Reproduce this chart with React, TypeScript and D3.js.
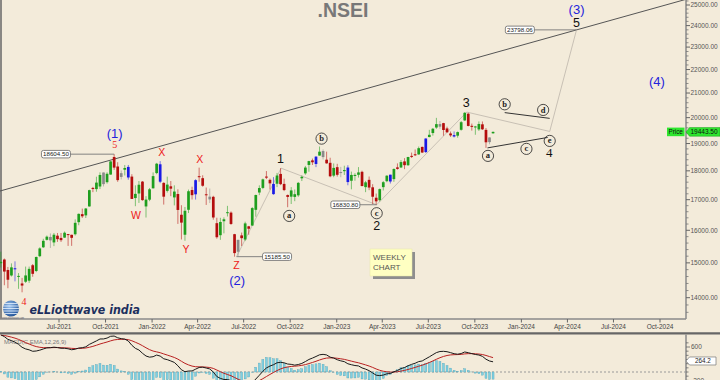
import React from 'react';
import * as d3 from 'd3';

// ---------- DATA (weekly NIFTY candles) ----------
const FIRST_WEEK = '2021-03-08';

const opens = [
  14990, 15100, 14790, 14630, 14840, 14590, 14400, 14450, 14480, 14930, 14760, 15200, 15470, 15700, 15790, 15620,
  15830, 15760, 15770, 15880, 15857, 15875, 16260, 16520, 16480, 16775, 17400, 17360, 17450, 17940, 17600, 17867,
  18500, 18155, 17783, 18040, 18140, 17796, 17055, 17210, 17620, 16774, 17000,
  17388, 17920, 18235, 17575, 17300, 17456, 17077, 17192, 16500, 15860, 16663, 17329, 17182, 17810, 17740, 17183,
  17009, 17097, 16227, 15845, 16290, 16578, 16570, 15877, 15334, 15839, 15710, 16126, 16151, 16662, 17243, 17401,
  17797, 17682, 17188, 17546, 17890, 17540, 17156, 17102, 17094, 17147, 17736, 17910, 18211, 18377, 18246, 18552,
  18719, 18402, 18288, 17830,
  18131, 17953, 17988, 18118, 17650, 17818, 17859, 17965, 17428, 17681, 17422, 17066, 16984, 17428, 17634, 17863,
  17708, 18124, 18120, 18339, 18201, 18541, 18600, 18595, 18873, 18682, 19246, 19400, 19612, 19748, 19784, 19577,
  19383, 19320, 19298, 19525, 19890, 20156, 19679, 19622, 19539, 19737, 19521, 19053, 19390,
];
const highs = [
  15336, 15130, 14880, 14985, 15045, 14700, 14560, 14890, 14890, 14966, 15190, 15470, 15733, 15835, 15901, 15915,
  15915, 15915, 15962, 15882, 15862, 16350, 16543, 16702, 16722, 17340, 17436, 17792, 17947, 17943, 17948, 18350,
  18604.5, 18310, 18012, 18210, 18210, 17880, 17490, 17640, 17640, 17118, 17400,
  17945, 18286, 18350, 17599, 17794, 17640, 17490, 17352, 16815, 16757, 17344, 17442, 17703, 18114, 17842, 17414,
  17379, 17132, 16404, 16400, 16415, 16793, 16610, 15887, 15707, 15928, 16275, 16140, 16752, 17172, 17490, 17724,
  17992, 17726, 17777, 17925, 18096, 17723, 17176, 17428, 17348, 17607, 17838, 18176, 18362, 18443, 18534, 18888,
  18781, 18697, 18473, 18265,
  18251, 18141, 18183, 18201, 17972, 17916, 18134, 18004, 17645, 17799, 17530, 17207, 17381, 17638, 17842, 17863,
  18089, 18267, 18389, 18458, 18508, 18662, 18777, 18888, 18886, 19201, 19523, 19595, 19991, 19867, 19795, 19645,
  19458, 19462, 19458, 19867, 20222, 20195, 19766, 19676, 19850, 19849, 19593, 19233, 19460,
];
const lows = [
  14862, 14350, 14265, 14600, 14460, 14248, 14151, 14416, 14417, 14592, 14725, 15170, 15450, 15680, 15450, 15505,
  15636, 15635, 15760, 15513, 15514, 15835, 16160, 16395, 16395, 16764, 17255, 17270, 17363, 17452, 17550, 17865,
  18033, 17613, 17697, 17836, 17688, 17026, 16782, 16891, 16966, 16410, 16950,
  17380, 17880, 17566, 16836, 17244, 17119, 16809, 16203, 15711, 15671, 16556, 17006, 17004, 17617, 17442, 16824,
  16888, 16340, 15736, 15700, 15903, 16444, 16172, 15185.5, 15191, 15511, 15661, 15858, 16143, 16438, 17154, 17359,
  17710, 17345, 17166, 17429, 17497, 17291, 16748, 16855, 16950, 17098, 17640, 17860, 17969, 18209, 18133, 18552,
  18410, 18255, 17774, 17774,
  17796, 17774, 17853, 17493, 17353, 17652, 17761, 17456, 17255, 17324, 16850, 16830.8, 16940, 17313, 17598, 17553,
  17613, 18042, 18100, 18060, 18178, 18465, 18535, 18580, 18646, 18647, 19234, 19300, 19562, 19563, 19296, 19412,
  19253, 19229, 19223, 19491, 19866, 19657, 19492, 19333, 19480, 19518, 18837, 18973, 19370,
];
const closes = [
  15031, 14744, 14507, 14867, 14835, 14618, 14341, 14631, 14823, 14678, 15175, 15436, 15670, 15799, 15683, 15860,
  15722, 15690, 15923, 15856, 15763, 16238, 16529, 16450, 16705, 17324, 17369, 17585, 17853, 17532, 17895, 18339,
  18115, 17672, 17917, 18102, 17765, 17026, 17197, 17511, 16985, 17003, 17354,
  17812, 18256, 17617, 17102, 17516, 17375, 17276, 16658, 16245, 16630, 17287, 17153, 17670, 17784, 17476, 17172,
  17102, 16411, 15782, 16266, 16352, 16584, 16202, 15293, 15699, 15752, 16220, 16049, 16719, 17158, 17397, 17698,
  17758, 17559, 17539, 17833, 17531, 17327, 17094, 17315, 17186, 17576, 17787, 18117, 18350, 18308, 18512, 18696,
  18497, 18269, 17807, 18105,
  17859, 17956, 18027, 17604, 17854, 17856, 17944, 17466, 17594, 17413, 17100, 16945, 17360, 17599, 17828, 17624,
  18065, 18069, 18315, 18203, 18499, 18534, 18563, 18826, 18665, 19189, 19332, 19565, 19745, 19646, 19517, 19428,
  19310, 19266, 19435, 19820, 20192, 19674, 19638, 19654, 19751, 19543, 19047, 19230, 19443.5,
];

// weeks drawn in the chart's blue and grey candle colours
const blueWeeks = ['2021-04-05', '2021-11-15', '2022-01-17', '2022-03-28', '2022-08-29', '2022-11-21',
  '2023-01-23', '2023-04-17', '2023-06-26', '2023-08-21'];
const greyWeeks = ['2021-06-14', '2021-09-27', '2021-11-01', '2022-04-25', '2022-06-20', '2022-12-05',
  '2023-01-09', '2023-07-24', '2023-10-30'];

// MACD(12,26,9) starting state read from the left edge of the lower panel
const MACD_SEED_EMA12 = 14390;
const MACD_SEED_EMA26 = 13480;
const MACD_SEED_SIGNAL = 880;

const priceTicks = [14000, 15000, 16000, 17000, 18000, 19000, 20000, 21000, 22000, 23000, 24000, 25000];
const macdTicks = [600, -200];
const lastPrice = 19443.5;
const lastMacd = 264.2;

// Elliott wave labels: [text, date, price, style]
const waveLabels: [string, string, number, string][] = [
  ['(1)', '2021-10-19', 19404, 'degree'],
  ['5', '2021-10-19', 18950, 'redNum'],
  ['X', '2022-01-20', 18689, 'red'],
  ['X', '2022-04-05', 18431, 'red'],
  ['W', '2021-11-30', 16494, 'red'],
  ['Y', '2022-03-09', 15417, 'red'],
  ['Z', '2022-06-17', 14936, 'red'],
  ['(2)', '2022-06-18', 14500, 'degree'],
  ['1', '2022-09-12', 18431, 'wave'],
  ['2', '2023-03-21', 16138, 'wave'],
  ['3', '2023-09-14', 20601, 'wave'],
  ['4', '2024-02-25', 18663, 'waveSerif'],
  ['5', '2024-04-19', 24157, 'wave'],
  ['(3)', '2024-04-19', 24803, 'degree'],
  ['(4)', '2024-09-25', 21477, 'degree'],
  ['4', '2021-04-23', 13908, 'redNum'],
];
const circledLabels: [string, string, number][] = [
  ['a', '2022-09-29', 16462],
  ['b', '2022-12-02', 19186],
  ['c', '2023-03-21', 16550],
  ['a', '2023-10-27', 18541],
  ['b', '2023-11-29', 20536],
  ['c', '2024-01-11', 18800],
  ['d', '2024-02-13', 20307],
  ['e', '2024-02-26', 19099],
];
// value flags: [text, point date, point price, flag date]
const valueFlags: [string, string, number, string][] = [
  ['18604.50', '2021-10-18', 18604.5, '2021-06-25'],
  ['15185.50', '2022-06-17', 15185.5, '2022-09-05'],
  ['16830.80', '2023-03-21', 16830.8, '2023-01-18'],
  ['23798.06', '2024-04-19', 23798.06, '2023-12-29'],
];
// wave path Z-1-2-3-4-5
const wavePathDates = ['2022-06-17', '2022-09-13', '2023-03-21', '2023-09-15', '2024-02-26', '2024-04-19'];
const wavePathPrices = [15185.5, 18096, 16830.8, 20222, 19460, 23798.06];
// triangle boundaries
const lineACE: [string, number][] = [['2023-10-26', 18837], ['2024-02-22', 19231]];
const lineBD: [string, number][] = [['2023-11-29', 20200], ['2024-02-26', 19972]];
// long-term trendline
const trendLine: [string, number][] = [['2021-03-01', 17268], ['2024-12-31', 25566]];

// ---------- LAYOUT ----------
const W = 720;
const H = 380;
const PR = 686; // plot right edge
const PB = 319; // plot bottom
const SANS = "'Liberation Sans', Arial, sans-serif";
const SERIF = "'Liberation Serif', 'Times New Roman', serif";
const BG = '#f3ebda';

const parse = d3.timeParse('%Y-%m-%d');
const D = (s: string) => parse(s) as Date;

export default function App() {
  const x = d3.scaleTime().domain([D('2021-07-01'), D('2024-10-01')]).range([59, 660]);
  const y = d3.scaleLog().domain([25000, 14000]).range([5, 297.7]);
  const ym = d3.scaleLinear().domain([0, 600]).range([372, 347]);

  const start = D(FIRST_WEEK);
  const weeks = closes.map((_, i) => d3.timeDay.offset(start, 7 * i));
  const fmtKey = d3.timeFormat('%Y-%m-%d');
  const blueSet = new Set(blueWeeks);
  const greySet = new Set(greyWeeks);

  // MACD
  const k12 = 2 / 13, k26 = 2 / 27, k9 = 2 / 10;
  let e12 = MACD_SEED_EMA12, e26 = MACD_SEED_EMA26, sig = MACD_SEED_SIGNAL;
  const macd = closes.map((c) => {
    e12 += k12 * (c - e12);
    e26 += k26 * (c - e26);
    const m = e12 - e26;
    sig += k9 * (m - sig);
    return { m, s: sig, h: m - sig };
  });
  const HIST_GAIN = 1.7;

  const bw = 2.7;
  const candles = closes.map((c, i) => {
    const o = opens[i], h = highs[i], l = lows[i];
    const key = fmtKey(weeks[i]);
    let col = c >= o ? '#1e9e1e' : '#b40d0d';
    if (blueSet.has(key)) col = '#1a1ae6';
    else if (greySet.has(key)) col = '#8a8a8a';
    const cx = x(weeks[i]);
    const top = y(Math.max(o, c));
    const bot = y(Math.min(o, c));
    return (
      <g key={i}>
        <line x1={cx} x2={cx} y1={y(h)} y2={y(l)} stroke={col} strokeOpacity={0.55} strokeWidth={1} />
        <rect x={cx - bw / 2} y={top} width={bw} height={Math.max(1, bot - top)} fill={col} />
      </g>
    );
  });

  const qTicks = d3.timeMonth.every(3)!.range(D('2021-07-01'), D('2024-10-02'));
  const fmtQ = d3.timeFormat('%b-%Y');

  const minorPrice: number[] = [];
  for (let v = 13400; v <= 25200; v += 200) if (v % 1000 !== 0) minorPrice.push(v);

  const macdPath = d3.line<{ m: number }>().x((_, i) => x(weeks[i])).y((d) => ym(d.m))(macd);
  const sigPath = d3.line<{ s: number }>().x((_, i) => x(weeks[i])).y((d) => ym(d.s))(macd);

  const wavePts = wavePathDates.map((d, i) => [x(D(d)), y(wavePathPrices[i])] as [number, number]);

  const labelStyle = (kind: string) => {
    switch (kind) {
      case 'degree': return { fill: '#2323dc', fontSize: 13, fontFamily: SANS };
      case 'red': return { fill: '#ee2020', fontSize: 10.5, fontFamily: SANS };
      case 'redNum': return { fill: '#ee2020', fontSize: 10, fontFamily: SERIF };
      case 'waveSerif': return { fill: '#111', fontSize: 13, fontFamily: SERIF };
      default: return { fill: '#111', fontSize: 12.5, fontFamily: SANS };
    }
  };

  return (
    <svg width={W} height={H} viewBox={`0 0 ${W} ${H}`}
      style={{ position: 'fixed', left: 0, top: 0, display: 'block' }}>
      <defs>
        <clipPath id="plotClip"><rect x={0} y={0} width={PR} height={PB} /></clipPath>
        <clipPath id="macdClip"><rect x={0} y={334.5} width={PR} height={46} /></clipPath>
        <radialGradient id="globe" cx="40%" cy="35%" r="70%">
          <stop offset="0%" stopColor="#9cc4ef" />
          <stop offset="100%" stopColor="#1d4f96" />
        </radialGradient>
      </defs>
      <rect x={0} y={0} width={W} height={H} fill={BG} />

      {/* title */}
      <text x={343} y={16.5} textAnchor="middle" fontFamily={SANS} fontWeight="bold" fontSize={19.5} fill="#787878">.NSEI</text>

      {/* frame */}
      <line x1={1} x2={1} y1={0} y2={PB} stroke="#666" strokeWidth={1.5} />
      <line x1={0} x2={PR} y1={PB} y2={PB} stroke="#8a8a8a" strokeWidth={1.5} />
      <line x1={PR} x2={PR} y1={0} y2={PB} stroke="#8a8a8a" strokeWidth={1.5} />

      {/* price axis */}
      {minorPrice.filter((v) => y(v) >= 0 && y(v) <= PB).map((v) => (
        <line key={'mp' + v} x1={PR} x2={PR + 2.5} y1={y(v)} y2={y(v)} stroke="#777" strokeWidth={0.8} />
      ))}
      {priceTicks.map((v) => (
        <g key={'pt' + v}>
          <line x1={PR} x2={PR + 4} y1={y(v)} y2={y(v)} stroke="#666" strokeWidth={1} />
          <text x={PR + 4.5} y={y(v)} dy="0.35em" fontFamily={SANS} fontSize={6.5} fill="#555">{v.toFixed(2)}</text>
        </g>
      ))}

      {/* date axis */}
      {qTicks.map((d) => (
        <g key={'qt' + d.getTime()}>
          <line x1={x(d)} x2={x(d)} y1={PB} y2={PB + 3.5} stroke="#666" strokeWidth={1} />
          <text x={x(d)} y={PB + 10} textAnchor="middle" fontFamily={SANS} fontSize={6.5} fill="#444">{fmtQ(d)}</text>
        </g>
      ))}

      <g clipPath="url(#plotClip)">
        {/* trend line */}
        <line x1={x(D(trendLine[0][0]))} y1={y(trendLine[0][1])} x2={x(D(trendLine[1][0]))} y2={y(trendLine[1][1])}
          stroke="#555" strokeWidth={1} />
        {/* wave path */}
        <path d={d3.line()(wavePts) || ''} fill="none" stroke="#c3bbb0" strokeWidth={0.9} />
        {/* triangle lines */}
        {[lineACE, lineBD].map((ln, i) => (
          <line key={'tl' + i} x1={x(D(ln[0][0]))} y1={y(ln[0][1])} x2={x(D(ln[1][0]))} y2={y(ln[1][1])}
            stroke="#333" strokeWidth={1} />
        ))}
        {candles}
      </g>

      {/* value flags */}
      {valueFlags.map(([t, pd, pp, bd], i) => {
        const px = x(D(pd)), py = y(pp), bx = x(D(bd));
        const w = 29, h = 7.5;
        const edge = bx < px ? bx + w / 2 : bx - w / 2;
        return (
          <g key={'vf' + i}>
            <line x1={edge} x2={px} y1={py} y2={py} stroke="#777" strokeWidth={0.9} />
            <rect x={bx - w / 2} y={py - h / 2} width={w} height={h} rx={2} fill="#fff" stroke="#666" strokeWidth={0.8} />
            <text x={bx} y={py} dy="0.35em" textAnchor="middle" fontFamily={SANS} fontSize={6.2} fill="#222">{t}</text>
          </g>
        );
      })}

      {/* wave labels */}
      {waveLabels.map(([t, d, p, k], i) => (
        <text key={'wl' + i} x={x(D(d))} y={y(p)} dy="0.36em" textAnchor="middle" {...labelStyle(k)}>{t}</text>
      ))}
      {circledLabels.map(([t, d, p], i) => (
        <g key={'cl' + i}>
          <circle cx={x(D(d))} cy={y(p)} r={5.6} fill="none" stroke="#222" strokeWidth={0.8} />
          <text x={x(D(d))} y={y(p)} dy="0.3em" textAnchor="middle" fontFamily={SERIF} fontWeight="bold" fontSize={8.5} fill="#222">{t}</text>
        </g>
      ))}

      {/* WEEKLY CHART note */}
      <rect x={373} y={252} width={42} height={27} fill="#8e8e8e" />
      <rect x={370} y={249} width={42} height={27} fill="#ffffc2" stroke="#e6e6a8" strokeWidth={0.5} />
      <text x={373} y={260} fontFamily={SANS} fontSize={8} fill="#555">WEEKLY</text>
      <text x={373} y={270} fontFamily={SANS} fontSize={8} fill="#555">CHART</text>

      {/* price flag */}
      <rect x={667} y={y(lastPrice) - 4.3} width={17.5} height={8.6} fill="#2ee62e" />
      <text x={675.7} y={y(lastPrice)} dy="0.35em" textAnchor="middle" fontFamily={SANS} fontSize={6.3} fill="#111">Price</text>
      <path d={`M${PR},${y(lastPrice)} L${PR + 3.5},${y(lastPrice) - 4.3} H${W} V${y(lastPrice) + 4.3} H${PR + 3.5} Z`}
        fill="#2ee62e" stroke="#1a9a1a" strokeWidth={0.5} />
      <text x={704} y={y(lastPrice)} dy="0.35em" textAnchor="middle" fontFamily={SANS} fontSize={6.5} fill="#111">{lastPrice.toFixed(2)}</text>

      {/* logo */}
      <circle cx={11} cy={308.5} r={8} fill="url(#globe)" />
      {[-5, -2.5, 0, 2.5, 5].map((o, i) => (
        <line key={'gl' + i} x1={11 - Math.sqrt(64 - o * o)} x2={11 + Math.sqrt(64 - o * o)} y1={308.5 + o} y2={308.5 + o}
          stroke="#e8f2ff" strokeWidth={0.8} />
      ))}
      <text x={2} y={318.6} fontFamily={SANS} fontSize={4} fill="#5a6070" textLength={22} lengthAdjust="spacingAndGlyphs">www.elliottwave.com</text>
      <text x={29.5} y={314} fontFamily="'DejaVu Sans', Verdana, sans-serif" fontStyle="italic" fontWeight="bold" fontSize={11.5}
        fill="#1c2f5e" textLength={110.5} lengthAdjust="spacingAndGlyphs">eLLiottwave india</text>

      {/* separator */}
      <line x1={0} x2={W} y1={333.3} y2={333.3} stroke="#666" strokeWidth={2.2} />

      {/* MACD panel */}
      <line x1={PR} x2={PR} y1={334.5} y2={H} stroke="#8a8a8a" strokeWidth={1.5} />
      <text x={4} y={343.5} fontFamily={SANS} fontSize={6} fill="#7a7a7a">MACD(C,EMA,12,26,9)</text>
      <line x1={0} x2={PR} y1={ym(0)} y2={ym(0)} stroke="#999" strokeWidth={1} strokeDasharray="2,2" />
      <g clipPath="url(#macdClip)">
        {macd.map((d, i) => {
          const cx = x(weeks[i]);
          const v = ym(d.h * HIST_GAIN);
          return (
            <rect key={'h' + i} x={cx - 1} y={Math.min(v, ym(0))} width={2} height={Math.abs(v - ym(0))}
              fill="#7fcfe0" stroke="#3f98b0" strokeWidth={0.3} />
          );
        })}
        <path d={sigPath || ''} fill="none" stroke="#b82020" strokeWidth={1} />
        <path d={macdPath || ''} fill="none" stroke="#1a1a1a" strokeWidth={1} />
      </g>
      {d3.range(-300, 701, 100).map((v) => (
        <line key={'mm' + v} x1={PR} x2={PR + (v % 400 === 200 || v === 600 ? 4 : 2.5)} y1={ym(v)} y2={ym(v)} stroke="#666" strokeWidth={0.8} />
      ))}
      {macdTicks.map((v) => (
        <text key={'mt' + v} x={PR + 5} y={ym(v)} dy="0.35em" fontFamily={SANS} fontSize={6.5} fill="#555">{v}</text>
      ))}
      <path d={`M${PR},${ym(lastMacd)} L${PR + 3.5},${ym(lastMacd) - 4} H${PR + 30} V${ym(lastMacd) + 4} H${PR + 3.5} Z`}
        fill="#fff" stroke="#777" strokeWidth={0.7} />
      <text x={PR + 17} y={ym(lastMacd)} dy="0.35em" textAnchor="middle" fontFamily={SANS} fontSize={6.3} fill="#222">{lastMacd.toFixed(1)}</text>
    </svg>
  );
}
